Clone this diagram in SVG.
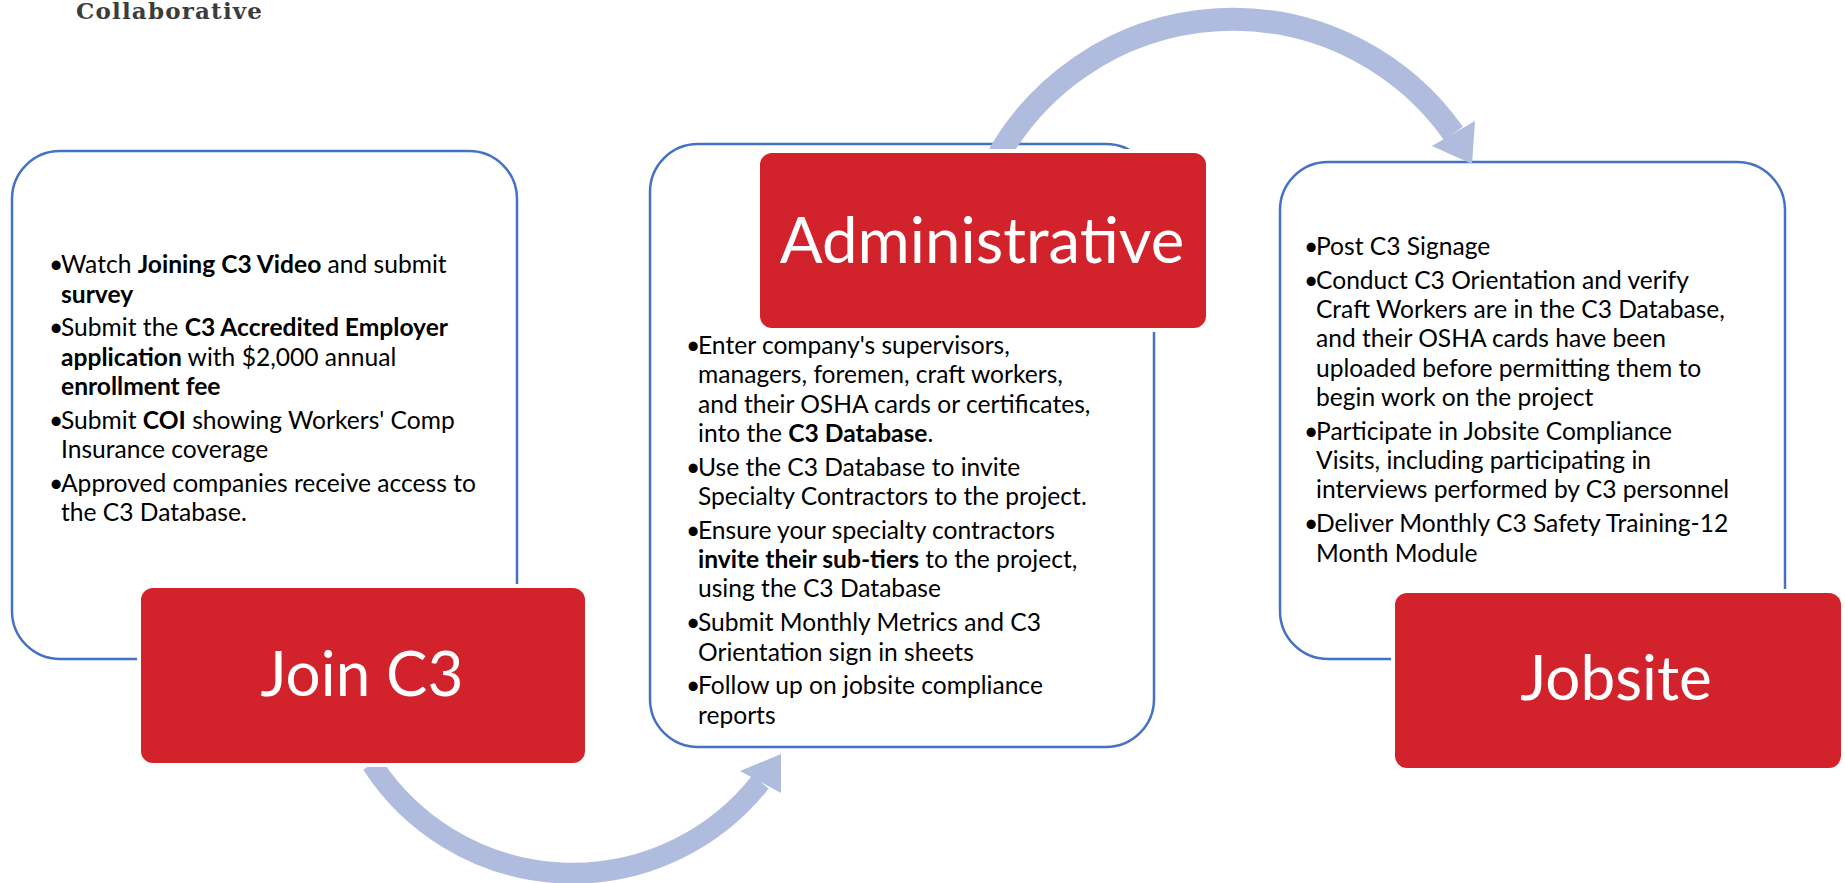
<svg xmlns="http://www.w3.org/2000/svg" width="1845" height="883" viewBox="0 0 1845 883">
  <style>
    .card { fill: #ffffff; stroke: #4472C4; stroke-width: 2.5; }
    .tag { fill: #D2222B; stroke: #ffffff; stroke-width: 4; }
    .tag-label { font-family: Lato, "Open Sans", "Liberation Sans", sans-serif; font-size: 62px; fill: #ffffff; text-anchor: middle; }
    .body { font-family: Lato, "Open Sans", "Liberation Sans", sans-serif; font-size: 24.6px; fill: #000000; }
    .b { font-weight: 700; }
    .flow { fill: none; stroke: #AFBCDD; }
    .head { fill: #AFBCDD; }
    .brand { font-family: "DejaVu Serif", "Liberation Serif", serif; font-weight: 700; font-size: 23px; fill: #3C3C3C; }
  </style>

  <text id="brand" class="brand" x="76" y="19" textLength="186" lengthAdjust="spacing">Collaborative</text>

  <!-- Step 1 card -->
  <g id="join-card">
    <rect class="card" x="12" y="151" width="505" height="508" rx="48" ry="48"/>
    <g class="body">
      <text x="49" y="273">•</text>
      <text x="61" y="273">Watch <tspan class="b">Joining C3 Video</tspan> and submit</text>
      <text x="61" y="302.5"><tspan class="b">survey</tspan></text>
      <text x="49" y="336">•</text>
      <text x="61" y="336">Submit the <tspan class="b">C3 Accredited Employer</tspan></text>
      <text x="61" y="365.5"><tspan class="b">application</tspan> with $2,000 annual</text>
      <text x="61" y="395"><tspan class="b">enrollment fee</tspan></text>
      <text x="49" y="428.5">•</text>
      <text x="61" y="428.5">Submit <tspan class="b">COI</tspan> showing Workers' Comp</text>
      <text x="61" y="458">Insurance coverage</text>
      <text x="49" y="491.5">•</text>
      <text x="61" y="491.5">Approved companies receive access to</text>
      <text x="61" y="521">the C3 Database.</text>
    </g>
  </g>

  <!-- Step 2 card -->
  <g id="admin-card">
    <rect class="card" x="650" y="144" width="504" height="603" rx="48" ry="48"/>
    <g class="body">
      <text x="686" y="354">•</text>
      <text x="698" y="354">Enter company's supervisors,</text>
      <text x="698" y="383.3">managers, foremen, craft workers,</text>
      <text x="698" y="412.6">and their OSHA cards or certificates,</text>
      <text x="698" y="442">into the <tspan class="b">C3 Database</tspan>.</text>
      <text x="686" y="475.8">•</text>
      <text x="698" y="475.8">Use the C3 Database to invite</text>
      <text x="698" y="505">Specialty Contractors to the project.</text>
      <text x="686" y="538.8">•</text>
      <text x="698" y="538.8">Ensure your specialty contractors</text>
      <text x="698" y="568"><tspan class="b">invite their sub-tiers</tspan> to the project,</text>
      <text x="698" y="597.4">using the C3 Database</text>
      <text x="686" y="631">•</text>
      <text x="698" y="631">Submit Monthly Metrics and C3</text>
      <text x="698" y="660.5">Orientation sign in sheets</text>
      <text x="686" y="694">•</text>
      <text x="698" y="694">Follow up on jobsite compliance</text>
      <text x="698" y="723.5">reports</text>
    </g>
  </g>

  <!-- Step 3 card -->
  <g id="jobsite-card">
    <rect class="card" x="1280" y="162" width="505" height="497" rx="48" ry="48"/>
    <g class="body">
      <text x="1304" y="255">•</text>
      <text x="1316" y="255">Post C3 Signage</text>
      <text x="1304" y="288.8">•</text>
      <text x="1316" y="288.8">Conduct C3 Orientation and verify</text>
      <text x="1316" y="318">Craft Workers are in the C3 Database,</text>
      <text x="1316" y="347.4">and their OSHA cards have been</text>
      <text x="1316" y="376.7">uploaded before permitting them to</text>
      <text x="1316" y="406">begin work on the project</text>
      <text x="1304" y="439.8">•</text>
      <text x="1316" y="439.8">Participate in Jobsite Compliance</text>
      <text x="1316" y="469">Visits, including participating in</text>
      <text x="1316" y="498.4">interviews performed by C3 personnel</text>
      <text x="1304" y="532">•</text>
      <text x="1316" y="532">Deliver Monthly C3 Safety Training-12</text>
      <text x="1316" y="561.5">Month Module</text>
    </g>
  </g>

  <!-- Curved flow arrows between the steps -->
  <g id="connectors">
    <path class="flow" stroke-width="21" d="M372,764 A239,239 0 0 0 760.5,782"/>
    <polygon class="head" points="781,754 740,771 781,793"/>
    <path class="flow" stroke-width="23" d="M996,160 A270,270 0 0 1 1453.5,133.5"/>
    <polygon class="head" points="1472,164 1475,121 1432,146"/>
  </g>

  <!-- Step title tags -->
  <g id="join-tag">
    <rect class="tag" x="139" y="586" width="448" height="179" rx="14" ry="14"/>
    <text class="tag-label" x="362" y="696">Join C3</text>
  </g>
  <g id="admin-tag">
    <rect class="tag" x="758" y="151" width="450" height="179" rx="14" ry="14"/>
    <text class="tag-label" x="982" y="263" style="font-size:63.5px">Administrative</text>
  </g>
  <g id="jobsite-tag">
    <rect class="tag" x="1393" y="591" width="450" height="179" rx="14" ry="14"/>
    <text class="tag-label" x="1616" y="700">Jobsite</text>
  </g>
</svg>
